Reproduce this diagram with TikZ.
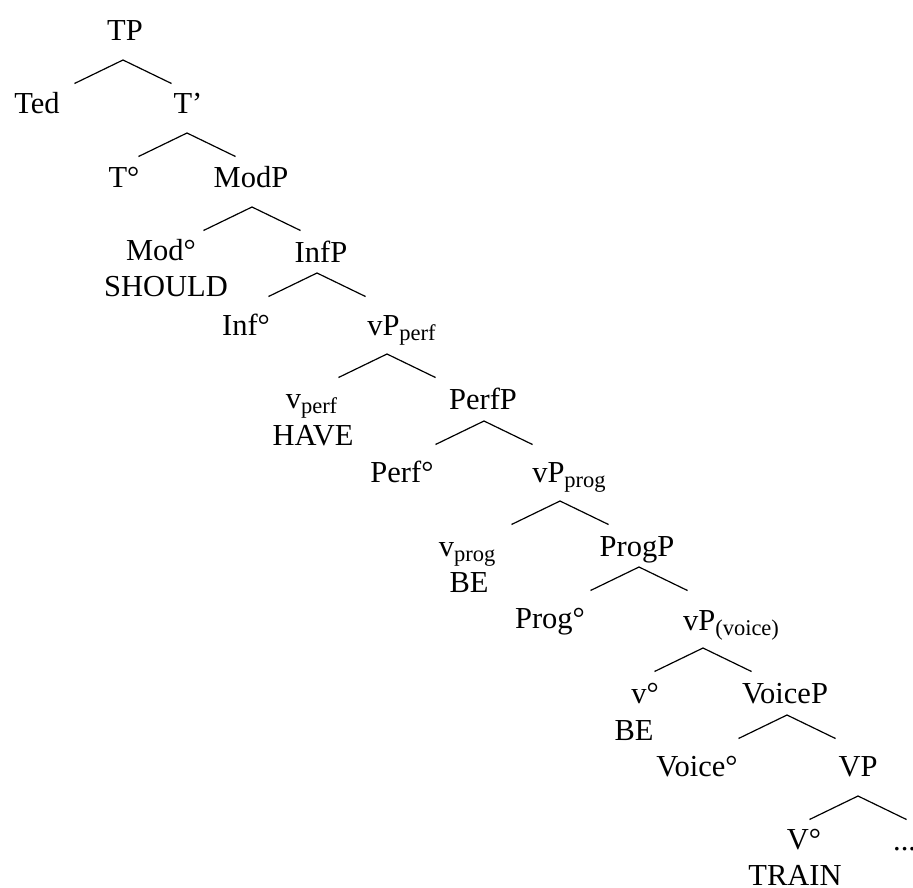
\documentclass[tikz,border=0pt]{standalone}
\usepackage{fontspec}
\setmainfont{Liberation Serif}
\newcommand{\subtxt}[1]{\raisebox{-5pt}{\fontsize{22.5}{24}\selectfont #1}}

\begin{document}
\begin{tikzpicture}[x=1pt, y=-1pt,
    lbl/.style={inner sep=0pt, anchor=base, font=\fontsize{30.5}{36}\selectfont},
    branch/.style={line width=1.2pt}]
    \useasboundingbox (0,0) rectangle (913,887);
    \node[lbl] (TP) at (125,40) {TP};
    \node[lbl] (Ted) at (37,113) {Ted};
    \node[lbl] (Tbar) at (188,113) {T’};
    \node[lbl] (Tdeg) at (124,187) {T°};
    \node[lbl] (ModP) at (251,187) {ModP};
    \node[lbl] (Moddeg) at (161,260) {Mod°};
    \node[lbl] (should) at (166,296) {SHOULD};
    \node[lbl] (InfP) at (321,262) {InfP};
    \node[lbl] (Infdeg) at (246,335) {Inf°};
    \node[lbl] (vPperf) at (401.5,335) {vP\subtxt{perf}};
    \node[lbl] (vperf) at (311.5,408) {v\subtxt{perf}};
    \node[lbl] (have) at (313,445) {HAVE};
    \node[lbl] (PerfP) at (483,409) {PerfP};
    \node[lbl] (Perfdeg) at (402,482) {Perf°};
    \node[lbl] (vPprog) at (569,482) {vP\subtxt{prog}};
    \node[lbl] (vprog) at (467,556) {v\subtxt{prog}};
    \node[lbl] (beprog) at (469,592) {BE};
    \node[lbl] (ProgP) at (637,556) {ProgP};
    \node[lbl] (Progdeg) at (550,628) {Prog°};
    \node[lbl] (vPvoice) at (731,630) {vP\subtxt{(voice)}};
    \node[lbl] (vdeg) at (645,703) {v°};
    \node[lbl] (bevoice) at (634,740) {BE};
    \node[lbl] (VoiceP) at (785,703) {VoiceP};
    \node[lbl] (Voicedeg) at (697,776) {Voice°};
    \node[lbl] (VP) at (858,776) {VP};
    \node[lbl] (Vdeg) at (804,849) {V°};
    \node[lbl] (train) at (795,885) {TRAIN};
    \node[lbl, anchor=base west] (rest) at (893,850) {...};
    \foreach \p/\dx/\dy in {TP/-2/20, Tbar/-1/20, ModP/1/20, InfP/-4/11,
        vPperf/-14.5/19, PerfP/1/12, vPprog/-9/19, ProgP/2/11,
        vPvoice/-28/18, VoiceP/2/12, VP/0/20} {
        \coordinate (\p-a) at ([shift={(\dx,\dy)}]\p.base);
        \draw[branch] (\p-a) +(-48.5,23.5) -- (\p-a) -- +(48.5,23.5);
    }
\end{tikzpicture}
\end{document}
